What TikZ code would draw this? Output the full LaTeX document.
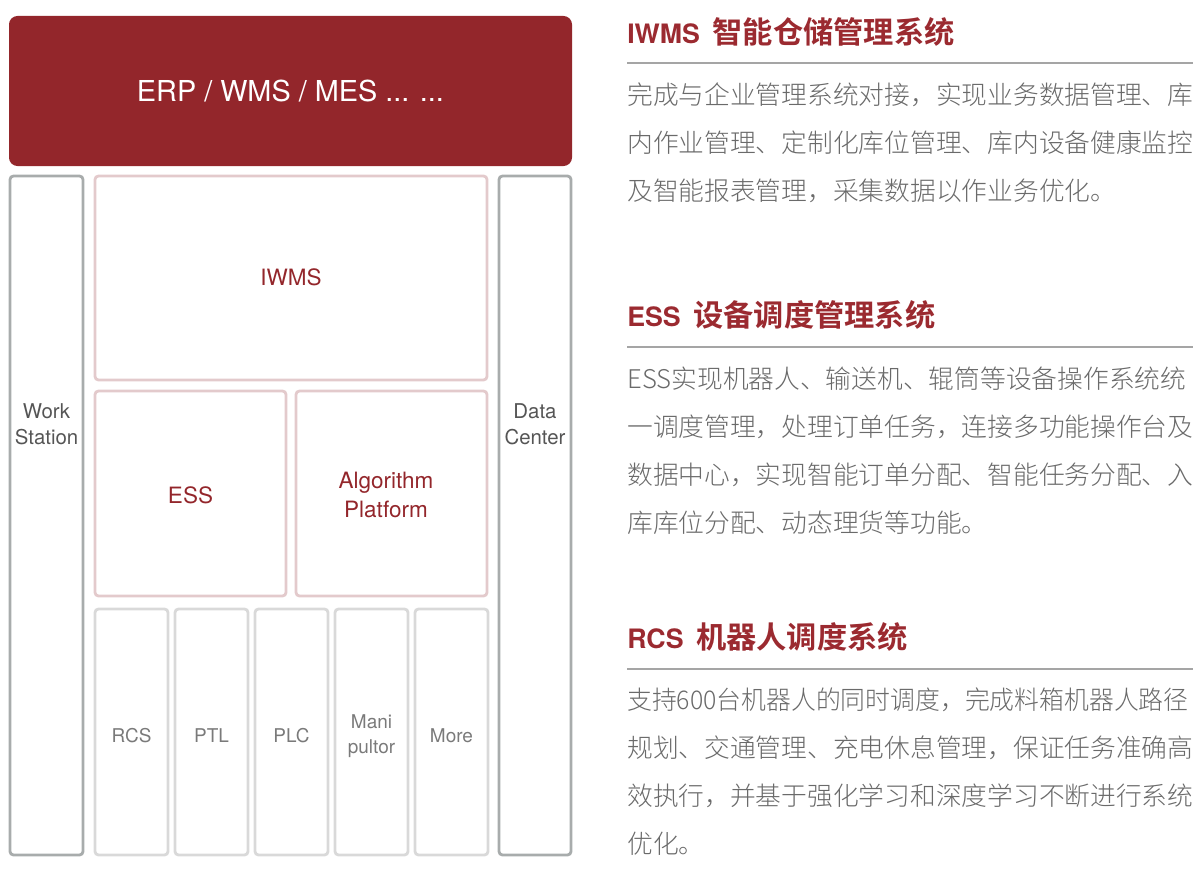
\documentclass[tikz,border=0pt]{standalone}
\usepackage{fontspec}
\setmainfont{TeX Gyre Heros}
\newfontfamily\cjk{Noto Sans CJK SC}[UprightFont=* Light, BoldFont=* Bold]

\definecolor{darkred}{HTML}{93262B}
\definecolor{titlered}{HTML}{9B2A30}
\definecolor{sidegray}{HTML}{A8ACAC}
\definecolor{pinkline}{HTML}{E3CACC}
\definecolor{unitline}{HTML}{D9D9D9}
\definecolor{labelgray}{HTML}{555555}
\definecolor{unitgray}{HTML}{7A7A7A}
\definecolor{bodygray}{HTML}{6A6A6A}
\definecolor{rulegray}{HTML}{A5A5A5}

\tikzset{
  sidebox/.style={draw=sidegray, line width=2pt, rounded corners=2.5pt},
  pinkbox/.style={draw=pinkline, line width=2pt, rounded corners=2.5pt},
  unitbox/.style={draw=unitline, line width=2pt, rounded corners=2.5pt},
  boxlabel/.style={align=center, text=darkred, font=\fontsize{16}{21}\selectfont},
  sidelabel/.style={align=center, text=labelgray, font=\fontsize{14.5}{18.5}\selectfont},
  unitlabel/.style={align=center, text=unitgray, font=\fontsize{13.5}{17.5}\selectfont},
  headline/.style={anchor=west, inner sep=0pt, text=titlered},
  bodyline/.style={anchor=west, inner sep=0pt, text=bodygray, font=\cjk\fontsize{18.3}{22}\selectfont},
}

\begin{document}
\begin{tikzpicture}[x=0.025cm, y=-0.025cm]
\useasboundingbox (0,0) rectangle (1200,886);

% left: system stack
\fill[darkred, rounded corners=6pt] (9,16) rectangle (572,166);
\node[text=white, font=\fontsize{20.5}{24}\selectfont] (erp) at (290.5,91) {ERP / WMS / MES ... ...};

\draw[sidebox] (10,176) rectangle (83,855);
\node[sidelabel] (work) at (46.5,424) {Work\\Station};
\draw[sidebox] (499,176) rectangle (571,855);
\node[sidelabel] (data) at (535,424) {Data\\Center};

\draw[pinkbox] (95,176) rectangle (487,380);
\node[boxlabel] (iwms) at (291,277) {IWMS};
\draw[pinkbox] (95,391) rectangle (286,596);
\node[boxlabel] (ess) at (190.5,495) {ESS};
\draw[pinkbox] (296,391) rectangle (487,596);
\node[boxlabel] (algo) at (386,495) {Algorithm\\Platform};

\foreach \x/\lab [count=\i] in {95/RCS,175/PTL,255/PLC,335/{Mani\\pultor},415/More}
{
    \draw[unitbox] (\x,609) rectangle ++(73,246);
    \node[unitlabel] (unit\i) at (\x+36.5,736) {\lab};
}

% right: descriptions
\node[headline] (iwmshead) at (627,32)
  {{\bfseries\fontsize{19}{22}\selectfont IWMS}\hspace{9pt}{\cjk\bfseries\fontsize{21.5}{24}\selectfont 智能仓储管理系统}};
\draw[rulegray, line width=1pt] (627,63) -- (1193,63);
\foreach \txt [count=\i] in {完成与企业管理系统对接，实现业务数据管理、库,
                              内作业管理、定制化库位管理、库内设备健康监控,
                              及智能报表管理，采集数据以作业务优化。}
    \node[bodyline] (iwmsline\i) at (627,{95+48*(\i-1)}) {\txt};

\node[headline] (esshead) at (627,315)
  {{\bfseries\fontsize{19}{22}\selectfont ESS}\hspace{9pt}{\cjk\bfseries\fontsize{21.5}{24}\selectfont 设备调度管理系统}};
\draw[rulegray, line width=1pt] (627,347) -- (1193,347);
\foreach \txt [count=\i] in {ESS实现机器人、输送机、辊筒等设备操作系统统,
                              一调度管理，处理订单任务，连接多功能操作台及,
                              数据中心，实现智能订单分配、智能任务分配、入,
                              库库位分配、动态理货等功能。}
    \node[bodyline] (essline\i) at (627,{379+48*(\i-1)}) {\txt};

\node[headline] (rcshead) at (627,637)
  {{\bfseries\fontsize{19}{22}\selectfont RCS}\hspace{9pt}{\cjk\bfseries\fontsize{21.5}{24}\selectfont 机器人调度系统}};
\draw[rulegray, line width=1pt] (627,669) -- (1193,669);
\foreach \txt [count=\i] in {\scalebox{0.965}[1]{支持600台机器人的同时调度，完成料箱机器人路径},
                              规划、交通管理、充电休息管理，保证任务准确高,
                              效执行，并基于强化学习和深度学习不断进行系统,
                              优化。}
    \node[bodyline] (rcsline\i) at (627,{700+48*(\i-1)}) {\txt};
\end{tikzpicture}
\end{document}
